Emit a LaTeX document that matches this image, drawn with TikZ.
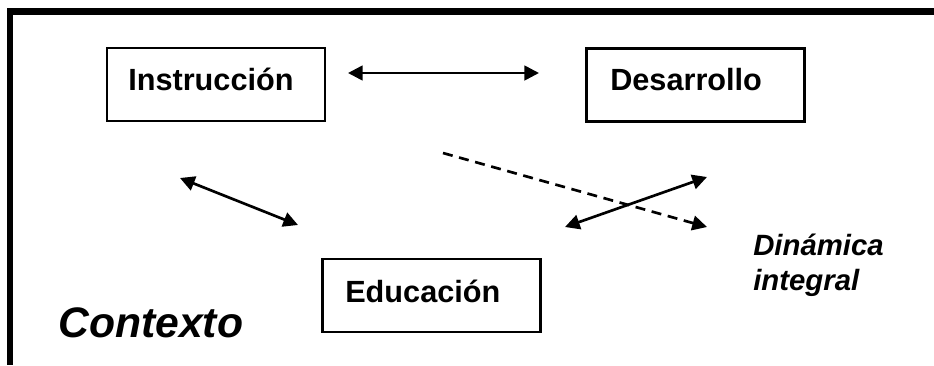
\documentclass[tikz,border=0pt]{standalone}
\usepackage{fontspec}
\setmainfont{Liberation Sans}
\usetikzlibrary{arrows.meta}
\tikzset{
  caja/.style={draw,line width=2pt,minimum width=163.5pt,minimum height=54.75pt,inner sep=0pt},
  rotulo/.style={anchor=base west,inner sep=0pt,font=\fontsize{23}{27}\selectfont\bfseries},
  flecha/.style={line width=2pt,{Triangle[length=11pt,width=11pt]}-{Triangle[length=11pt,width=11pt]}},
  rayas/.style={line width=2pt,dash pattern=on 7.5pt off 5pt,-{Triangle[length=11pt,width=11pt]}}
}
\begin{document}
\begin{tikzpicture}[x=0.75pt,y=-0.75pt]
		\useasboundingbox (0,0) rectangle (934,365);
		% frame
		\draw[line width=5.25pt] (7,11.5) -- (934,11.5);
		\draw[line width=4.5pt] (10,8) -- (10,365);
		% boxes
		\node[caja] (instr) at (216,84.5) {};
		\node[rotulo] (instrT) at (128,90) {Instrucción};
		\node[caja] (desa) at (695.5,85) {};
		\node[rotulo] (desaT) at (610,90) {Desarrollo};
		\node[caja] (educ) at (431.5,295.5) {};
		\node[rotulo] (educT) at (345,302) {Educación};
		% arrow ends
		\coordinate (a1) at (348,73);
		\coordinate (a2) at (539,73);
		\coordinate (b1) at (180,178);
		\coordinate (b2) at (298,225);
		\coordinate (c1) at (565,227);
		\coordinate (c2) at (707,177);
		\coordinate (d1) at (443,153);
		\coordinate (d2) at (707,227);
		% arrows
		\draw[flecha] (a1) -- (a2);
		\draw[flecha] (b1) -- (b2);
		\draw[flecha] (c1) -- (c2);
		\draw[rayas] (d1) -- (d2);
		% labels
		\node[anchor=base west,inner sep=0pt,font=\fontsize{22}{26}\selectfont\bfseries\itshape] (dina) at (753,255) {Dinámica};
		\node[anchor=base west,inner sep=0pt,font=\fontsize{22}{26}\selectfont\bfseries\itshape] (integ) at (753,290) {integral};
		\node[anchor=base west,inner sep=0pt,font=\fontsize{32}{36}\selectfont\bfseries\itshape] (ctx) at (58,337) {Contexto};
\end{tikzpicture}
\end{document}
